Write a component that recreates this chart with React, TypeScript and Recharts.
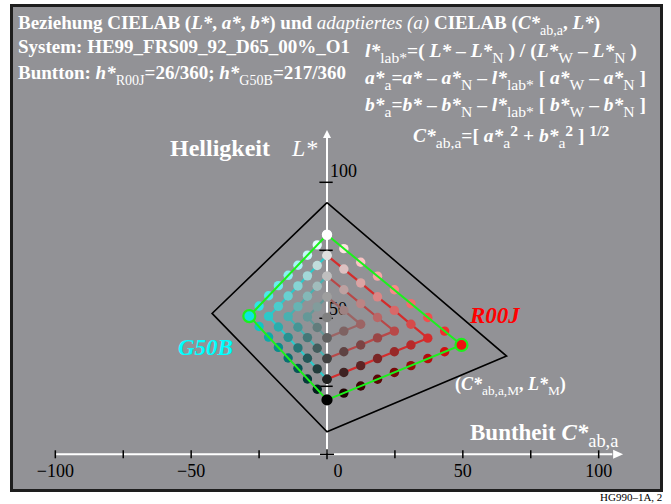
import React from 'react';
import {
  ScatterChart,
  Scatter,
  XAxis,
  YAxis,
  ReferenceLine,
  ReferenceDot,
  Cell
} from 'recharts';

// chroma C*ab,a (x) and lightness L* (y) of the corner colours
const WHITE_PT: [number, number] = [0, 80.7];
const BLACK_PT: [number, number] = [0, 20.0];
const R00J_PT: [number, number] = [49.5, 40.2];
const G50B_PT: [number, number] = [-28.6, 50.8];

// outline of the colour solid, closed
const OUTLINE: [number, number][] = [
  [0, 92.5], [66.1, 36.1], [0, 8.3], [-42.3, 51.8], [0, 92.5]
];

// R00J hue plane, nested chevrons from outside to the middle grey
const R00J_OUTER: [number, number][] = [
  [0, 80.7], [6.2, 75.6], [12.4, 70.6], [18.6, 65.5], [24.8, 60.5], [30.9, 55.4],
  [37.1, 50.3], [43.3, 45.3], [49.5, 40.2], [43.3, 37.7], [37.1, 35.2], [30.9, 32.6],
  [24.8, 30.1], [18.6, 27.6], [12.4, 25.1], [6.2, 22.5], [0, 20.0]
];
const R00J_K1: [number, number][] = [
  [0, 73.1], [6.2, 68.1], [12.4, 63.0], [18.6, 57.9], [24.8, 52.9], [30.9, 47.8],
  [37.1, 42.7], [30.9, 40.2], [24.8, 37.7], [18.6, 35.2], [12.4, 32.6], [6.2, 30.1],
  [0, 27.6]
];
const R00J_K2: [number, number][] = [
  [0, 65.5], [6.2, 60.5], [12.4, 55.4], [18.6, 50.3], [24.8, 45.3], [18.6, 42.8],
  [12.4, 40.2], [6.2, 37.7], [0, 35.2]
];
const R00J_K3: [number, number][] = [
  [0, 57.9], [6.2, 52.9], [12.4, 47.8], [6.2, 45.3], [0, 42.8]
];
const MID_GREY: [number, number][] = [[0, 50.3]];

// G50B hue plane
const G50B_OUTER: [number, number][] = [
  [0, 80.7], [-3.6, 77.0], [-7.2, 73.2], [-10.7, 69.5], [-14.3, 65.8], [-17.9, 62.0],
  [-21.5, 58.3], [-25.0, 54.5], [-28.6, 50.8], [-25.0, 47.0], [-21.5, 43.1],
  [-17.9, 39.3], [-14.3, 35.4], [-10.7, 31.6], [-7.2, 27.7], [-3.6, 23.9], [0, 20.0]
];
const G50B_K1: [number, number][] = [
  [0, 73.1], [-3.6, 69.4], [-7.2, 65.6], [-10.7, 61.9], [-14.3, 58.2], [-17.9, 54.4],
  [-21.5, 50.7], [-17.9, 46.8], [-14.3, 43.0], [-10.7, 39.1], [-7.2, 35.3],
  [-3.6, 31.4], [0, 27.6]
];
const G50B_K2: [number, number][] = [
  [0, 65.5], [-3.6, 61.8], [-7.2, 58.1], [-10.7, 54.3], [-14.3, 50.6], [-10.7, 46.7],
  [-7.2, 42.9], [-3.6, 39.0], [0, 35.2]
];
const G50B_K3: [number, number][] = [
  [0, 57.9], [-3.6, 54.2], [-7.2, 50.5], [-3.6, 46.6], [0, 42.8]
];

const X_TICKS = [-100, -75, -50, -25, 0, 25, 50, 75, 100];
const L_TICKS = [25, 50, 75, 100];

const R00J_RGB = [240, 16, 16];
const G50B_RGB = [16, 226, 226];
const GREEN = '#1cf01c';
const FONT = '"Liberation Serif", "Times New Roman", serif';

const toPts = (arr: [number, number][]) => arr.map(([x, y]) => ({ x, y }));

// colour of step i on chevron k: mixture of white, black and the hue (8 steps)
function stepColor(k: number, i: number, hue: number[]) {
  let w: number, s: number, c: number;
  if (k === 4) {
    w = 4; s = 4; c = 0;
  } else {
    const seg = 8 - 2 * k;
    if (i <= seg) {
      w = 8 - k - i; s = k; c = i;
    } else {
      const j = i - seg;
      w = k; s = k + j; c = seg - j;
    }
  }
  const ch = (n: number) => Math.round((w * 255 + c * hue[n]) / 8);
  return `rgb(${ch(0)},${ch(1)},${ch(2)})`;
}

const Dot = (p: any) => <circle cx={p.cx} cy={p.cy} r={4.7} fill={p.fill} />;
const NoDot = () => <g />;
const Ring = (p: any) => (
  <circle cx={p.cx} cy={p.cy} r={6} fill={p.fill} stroke={GREEN} strokeWidth={2.2} />
);

// tiny markup: {italic}  <italic, normal weight>  ~subscript~  ^superscript^
function Rich({ x, y, size, text, fill = '#fff', weight = 'bold', style = 'normal', sub = 0.74, rise = 0.4 }: any) {
  const parts = text.split(/(\{[^}]*\}|<[^>]*>|~[^~]*~|\^[^^]*\^)/).filter((t: string) => t);
  let shift = 0;
  return (
    <text x={x} y={y} fontSize={size} fill={fill} fontWeight={weight} fontStyle={style}
      fontFamily={FONT} style={{ whiteSpace: 'pre' }}>
      {parts.map((t: string, idx: number) => {
        const m = t[0];
        let target = 0;
        let body = t;
        const props: any = {};
        if (m === '{') { body = t.slice(1, -1); props.fontStyle = 'italic'; }
        else if (m === '<') { body = t.slice(1, -1); props.fontStyle = 'italic'; props.fontWeight = 'normal'; }
        else if (m === '~') {
          body = t.slice(1, -1); target = size * 0.3; props.fontSize = size * sub; props.fontWeight = 'normal';
        } else if (m === '^') {
          body = t.slice(1, -1); target = -size * rise; props.fontSize = size * sub;
        }
        const dy = target - shift;
        shift = target;
        return <tspan key={idx} dy={dy} {...props}>{body}</tspan>;
      })}
    </text>
  );
}

const XTick = (p: any) => {
  const v = p.payload.value;
  const { x, y } = p;
  if (v === 0) {
    return (
      <g>
        <line x1={x - 7} x2={x + 7} y1={y} y2={y} stroke="#000" strokeWidth={1.5} />
        <line x1={x} x2={x} y1={y - 5} y2={y + 5} stroke="#000" strokeWidth={1.5} />
        <text x={x + 11} y={y + 23} textAnchor="middle" fontSize={18} fontFamily={FONT} fill="#000">0</text>
      </g>
    );
  }
  return (
    <g>
      <line x1={x} x2={x} y1={y - 4} y2={y + 4} stroke="#000" strokeWidth={1.5} />
      {v % 50 === 0 && (
        <text x={x} y={y + 23} textAnchor="middle" fontSize={18} fontFamily={FONT} fill="#000">
          {v < 0 ? `\u2212${-v}` : `${v}`}
        </text>
      )}
    </g>
  );
};

const chevrons = (name: string, sets: [number, number][][], hue: number[]) =>
  sets.map((pts, k) => (
    <Scatter
      key={`${name}-${k}`}
      data={toPts(pts)}
      isAnimationActive={false}
      line={k === 0 || k === 4 ? false : { stroke: stepColor(k, 8 - 2 * k, hue), strokeWidth: 2.2 }}
      shape={Dot}
    >
      {pts.map((_, i) => <Cell key={i} fill={stepColor(k, i, hue)} />)}
    </Scatter>
  ));

export default function App() {
  const quad = [WHITE_PT, R00J_PT, BLACK_PT, G50B_PT, WHITE_PT];
  return (
    <div style={{ position: 'absolute', left: 0, top: 0, width: 671, height: 504, background: '#fff' }}>
      <div style={{
        position: 'absolute', left: 10, top: 4, width: 653, height: 488,
        boxSizing: 'border-box', border: '3px solid #1e1e1e', background: '#929296'
      }} />
      <svg width={671} height={504} style={{ position: 'absolute', left: 0, top: 0 }}>
        <Rich x={18} y={29} size={19} text="Beziehung CIELAB ({L*}, {a*}, {b*}) und <adaptiertes (a)> CIELAB ({C*}~ab,a~, {L*})" />
        <Rich x={18} y={53} size={19} text="System: HE99_FRS09_92_D65_00%_O1" />
        <Rich x={18} y={79} size={19} text="Buntton: {h*}~R00J~=26/360; {h*}~G50B~=217/360" />
        <Rich x={365} y={57} size={19.5} sub={0.8} text="{l*}~lab*~=( {L*} – {L*}~N~ ) / ({L*}~W~ – {L*}~N~ )" />
        <Rich x={365} y={84} size={19.5} sub={0.8} text="{a*}~a~={a*} – {a*}~N~ – {l*}~lab*~ [ {a*}~W~ – {a*}~N~ ]" />
        <Rich x={365} y={111} size={19.5} sub={0.8} text="{b*}~a~={b*} – {b*}~N~ – {l*}~lab*~ [ {b*}~W~ – {b*}~N~ ]" />
        <Rich x={413} y={142} size={19.5} sub={0.8} rise={0.33} text="{C*}~ab,a~=[ {a*}~a~^2^ + {b*}~a~^2^ ] ^1/2^" />
        <Rich x={170} y={156} size={24} text="Helligkeit" />
        <Rich x={292} y={156} size={24} text="<L*>" />
        <Rich x={330} y={177} size={18} weight="normal" fill="#000" text="100" />
        <Rich x={329} y={315} size={18} weight="normal" fill="#000" text="50" />
        <Rich x={470} y={323} size={23} style="italic" fill="#ff0000" text="R00J" />
        <Rich x={178} y={355} size={23} style="italic" fill="#00ffff" text="G50B" />
        <Rich x={455} y={390} size={18} text="({C*}~ab,a,M~, {L*}~M~)" />
        <Rich x={470} y={440} size={23} sub={0.8} text="Buntheit {C*}~ab,a~" />
        <Rich x={600} y={501} size={11} weight="normal" fill="#000" text="HG990–1A, 2" />
      </svg>
      <div style={{ position: 'absolute', left: 0, top: 0 }}>
        <ScatterChart width={671} height={504} margin={{ top: 114.3, right: 18, bottom: 19.7, left: 1 }}>
          <XAxis
            type="number"
            dataKey="x"
            domain={[-120, 120]}
            ticks={X_TICKS}
            interval={0}
            allowDataOverflow
            axisLine={false}
            tickLine={false}
            tickSize={0}
            tickMargin={0}
            height={30}
            tick={XTick}
          />
          <YAxis type="number" dataKey="y" domain={[0, 125]} allowDataOverflow hide />

          <Scatter data={toPts(OUTLINE)} isAnimationActive={false} shape={NoDot}
            line={{ stroke: '#000', strokeWidth: 1.6 }} />

          {chevrons('r', [R00J_OUTER, R00J_K1, R00J_K2, R00J_K3, MID_GREY], R00J_RGB)}
          {chevrons('g', [G50B_OUTER, G50B_K1, G50B_K2, G50B_K3, MID_GREY], G50B_RGB)}

          <ReferenceLine segment={[{ x: -100, y: 0 }, { x: 105, y: 0 }]} stroke="#fff" strokeWidth={2} ifOverflow="visible" />
          <ReferenceLine segment={[{ x: 0, y: 0 }, { x: 0, y: 117 }]} stroke="#fff" strokeWidth={2} ifOverflow="visible" />
          {L_TICKS.map((t) => (
            <ReferenceLine key={t} segment={[{ x: -2.8, y: t }, { x: 2.1, y: t }]} stroke="#000" strokeWidth={1.5} ifOverflow="visible" />
          ))}
          <ReferenceDot x={109} y={0} ifOverflow="visible"
            shape={(p: any) => <path d={`M${p.cx},${p.cy} l-10,-4.5 l0,9 z`} fill="#fff" />} />
          <ReferenceDot x={0} y={119.2} ifOverflow="visible"
            shape={(p: any) => <path d={`M${p.cx},${p.cy} l-4,8 l8,0 z`} fill="#fff" />} />

          <Scatter data={toPts(quad)} isAnimationActive={false} shape={NoDot}
            line={{ stroke: GREEN, strokeWidth: 2 }} />
          <Scatter data={toPts([R00J_PT])} isAnimationActive={false} shape={Ring}>
            <Cell fill={`rgb(${R00J_RGB.join(',')})`} />
          </Scatter>
          <Scatter data={toPts([G50B_PT])} isAnimationActive={false} shape={Ring}>
            <Cell fill={`rgb(${G50B_RGB.join(',')})`} />
          </Scatter>
          <Scatter data={toPts([WHITE_PT])} isAnimationActive={false}
            shape={(p: any) => <circle cx={p.cx} cy={p.cy} r={5.2} fill="#fff" />} />
          <Scatter data={toPts([BLACK_PT])} isAnimationActive={false}
            shape={(p: any) => <circle cx={p.cx} cy={p.cy} r={5.6} fill="#000" />} />
        </ScatterChart>
      </div>
    </div>
  );
}
